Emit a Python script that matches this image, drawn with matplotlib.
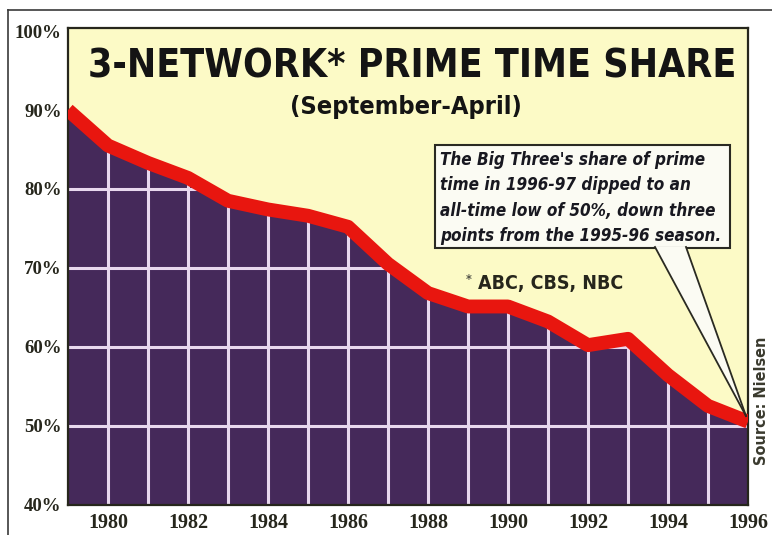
import matplotlib
matplotlib.use("Agg")
import matplotlib.pyplot as plt
from matplotlib.patches import Rectangle, Polygon
from matplotlib.lines import Line2D

# ---- data ----
years = [1979, 1980, 1981, 1982, 1983, 1984, 1985, 1986, 1987, 1988,
         1989, 1990, 1991, 1992, 1993, 1994, 1995, 1996]
share = [90.0, 85.5, 83.3, 81.4, 78.5, 77.4, 76.6, 75.2, 70.5, 66.8,
         65.1, 65.1, 63.2, 60.2, 61.0, 56.4, 52.5, 50.5]
xtick_years = [1980, 1982, 1984, 1986, 1988, 1990, 1992, 1994, 1996]
ytick_vals = [40, 50, 60, 70, 80, 90, 100]
ytick_labels = ["40%", "50%", "60%", "70%", "80%", "90%", "100%"]
title = "3-NETWORK* PRIME TIME SHARE"
subtitle = "(September-April)"
note_lines = ["The Big Three's share of prime",
              "time in 1996-97 dipped to an",
              "all-time low of 50%, down three",
              "points from the 1995-96 season."]
footnote = "ABC, CBS, NBC"
source = "Source: Nielsen"

# ---- style ----
W, H = 772, 535
YELLOW = "#fcfac6"
PURPLE = "#45295a"
RED = "#e8160f"
GRID = "#e8d8ee"
DARK = "#26261c"
COND = ["DejaVu Sans"]
SERIF = ["Liberation Serif", "DejaVu Serif"]

def fx(px):
    return px / W

def fy(py):
    return 1 - py / H

fig = plt.figure(figsize=(W / 100, H / 100), dpi=100)
fig.patch.set_facecolor("white")
renderer = fig.canvas.get_renderer()

def fit(t, target_w):
    bb = t.get_window_extent(renderer=renderer)
    t.set_fontsize(t.get_fontsize() * target_w / bb.width)
    return t

ax = fig.add_axes([fx(68), fy(504.5), fx(748) - fx(68), fy(28) - fy(504.5)])
ax.set_facecolor(YELLOW)
ax.set_xlim(1979, 1996)
ax.set_ylim(40, 100.4)

poly = ax.fill_between(years, 40, share, color=PURPLE, lw=0, zorder=1)
clip_path = poly.get_paths()[0]

vl = ax.vlines(years[1:-1], 40, 100.4, colors=GRID, lw=2.2, zorder=2)
vl.set_clip_path(clip_path, ax.transData)
hl = ax.hlines([50, 60, 70, 80, 90], 1979, 1996, colors=GRID, lw=2.2, zorder=2)
hl.set_clip_path(clip_path, ax.transData)

ax.plot(years, share, color=RED, lw=10, solid_joinstyle="round",
        solid_capstyle="butt", zorder=3)

for s in ax.spines.values():
    s.set_color(DARK)
    s.set_linewidth(1.6)

ax.set_xticks(xtick_years)
ax.set_xticklabels([str(y) for y in xtick_years])
ax.set_yticks(ytick_vals)
ax.set_yticklabels(ytick_labels)
ax.tick_params(axis="both", length=0, colors=DARK)
ax.tick_params(axis="y", pad=4.5)
ax.tick_params(axis="x", pad=6)
for lab in ax.get_yticklabels():
    lab.set_fontfamily(SERIF)
    lab.set_fontweight("bold")
    lab.set_fontsize(13.5)
for lab in ax.get_xticklabels():
    lab.set_fontfamily(SERIF)
    lab.set_fontweight("bold")
    lab.set_fontsize(14.5)

txt_kw = dict(fontweight="bold", family=COND, fontstretch="condensed")

# titles
t1 = fig.text(fx(412), fy(66), title, ha="center", va="center", fontsize=30,
              color="#141414", **txt_kw)
fit(t1, 645)
t2 = fig.text(fx(406), fy(107), subtitle, ha="center", va="center",
              fontsize=18, color="#141414", **txt_kw)
fit(t2, 232)

# annotation box with tail
box = Rectangle((fx(435), fy(248)), fx(730) - fx(435), fy(145) - fy(248),
                transform=fig.transFigure, facecolor="#fbfbf3",
                edgecolor="#2a2a22", lw=1.5, zorder=5)
fig.add_artist(box)
tail = Polygon([(fx(655), fy(247)), (fx(686), fy(247)), (fx(746), fy(416))],
               closed=True, transform=fig.transFigure, facecolor="#fbfbf3",
               edgecolor="none", zorder=6)
fig.add_artist(tail)
for (x0, y0) in [(655, 247), (686, 247)]:
    fig.add_artist(Line2D([fx(x0), fx(746)], [fy(y0), fy(416)],
                          transform=fig.transFigure, color="#2a2a22",
                          lw=1.3, zorder=7))
note_texts = []
for i, line in enumerate(note_lines):
    note_texts.append(fig.text(fx(440), fy(160 + i * 25.3), line, ha="left",
                               va="center", fontsize=14, fontstyle="italic",
                               color="#181820", zorder=8, **txt_kw))
fit(note_texts[3], 281)
for t in note_texts:
    t.set_fontsize(note_texts[3].get_fontsize())

fig.text(fx(466), fy(279), "*", ha="left", va="center", fontsize=9,
         color="#55554a", **txt_kw)
t3 = fig.text(fx(478), fy(284), footnote, ha="left", va="center",
              fontsize=15, color=DARK, **txt_kw)
fit(t3, 145)

t4 = fig.text(fx(762), fy(401), source, ha="center", va="center",
              rotation=90, fontsize=13, color="#3a3a2e", **txt_kw)
bb = t4.get_window_extent(renderer=renderer)
t4.set_fontsize(t4.get_fontsize() * 128 / bb.height)

# outer frame lines
fig.add_artist(Line2D([fx(8), fx(772)], [fy(10), fy(10)],
                      transform=fig.transFigure, color="#3a3a3a", lw=1.2))
fig.add_artist(Line2D([fx(8), fx(8)], [fy(10), fy(535)],
                      transform=fig.transFigure, color="#3a3a3a", lw=1.2))

fig.savefig("out.png", dpi=100)
